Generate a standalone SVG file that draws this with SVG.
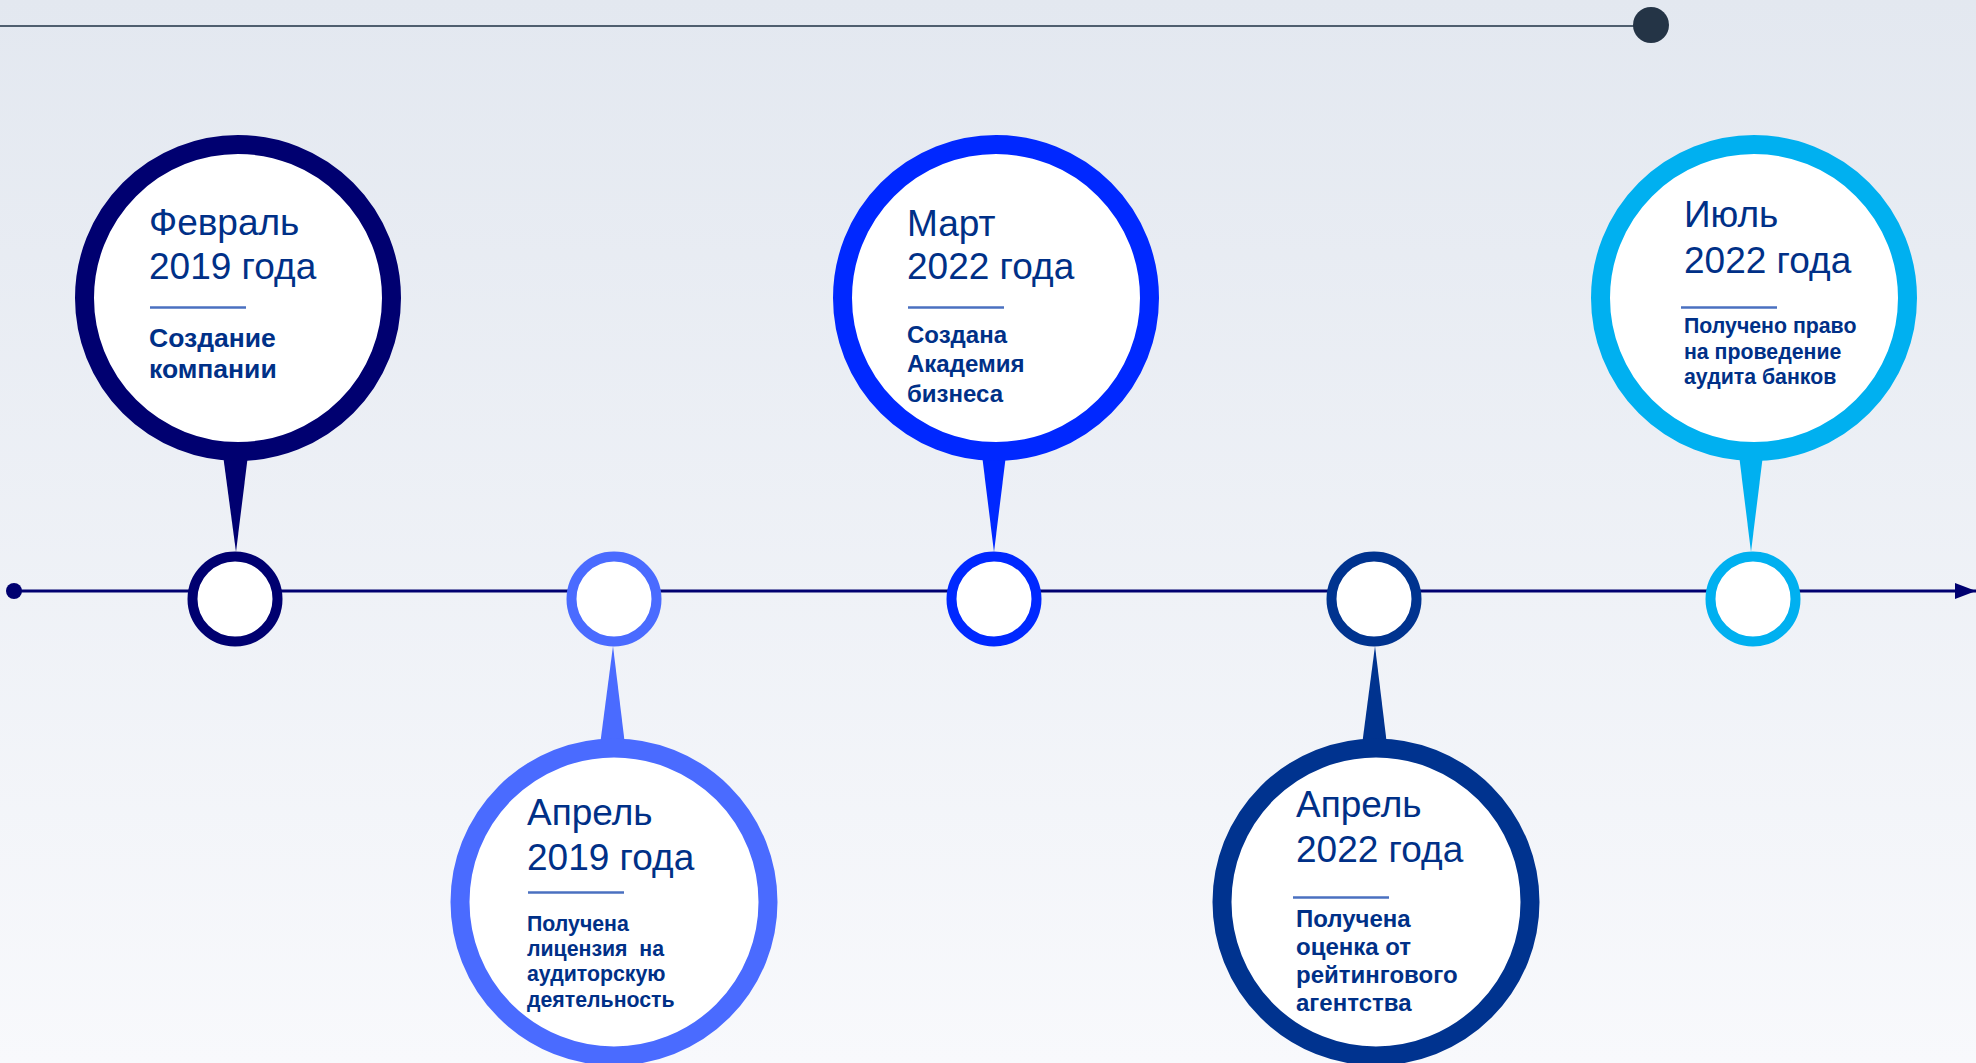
<svg xmlns="http://www.w3.org/2000/svg" width="1976" height="1063" viewBox="0 0 1976 1063">
<defs>
<linearGradient id="bg" x1="0" y1="0" x2="0" y2="1">
<stop offset="0" stop-color="#e3e8f0"/>
<stop offset="1" stop-color="#f8f9fc"/>
</linearGradient>
<marker id="arrow" viewBox="0 0 21 16" refX="21" refY="8" markerWidth="21" markerHeight="16" markerUnits="userSpaceOnUse" orient="auto">
<path d="M0,0 L21,8 L0,16 Z" fill="#000070"/>
</marker>
</defs>
<style>
.date{font-family:"Liberation Sans",Arial,sans-serif;font-size:37px;fill:#003087}
.body{font-family:"Liberation Sans",Arial,sans-serif;font-weight:bold;fill:#003087}
.div{stroke:#4a70c0;stroke-width:2.5}
.big{fill:#ffffff;stroke-width:19}
.small{fill:#ffffff;stroke-width:10}
</style>
<rect width="1976" height="1063" fill="url(#bg)"/>
<g id="header">
<line x1="0" y1="26" x2="1640" y2="26" stroke="#4f5f6f" stroke-width="2"/>
<circle cx="1651" cy="25" r="18" fill="#243446"/>
</g>
<g id="connectors">
<line x1="14" y1="591" x2="1976" y2="591" stroke="#000070" stroke-width="3" marker-end="url(#arrow)"/>
<circle cx="14" cy="591" r="8" fill="#000070"/>
<path d="M223,455 L248,455 L236,552 Z" fill="#000070"/>
<path d="M600,745 L625,745 L613,646 Z" fill="#4a6bff"/>
<path d="M982,455 L1006,455 L994,552 Z" fill="#0028ff"/>
<path d="M1362,745 L1387,745 L1375,646 Z" fill="#00338f"/>
<path d="M1739,455 L1763,455 L1751,552 Z" fill="#00b0f0"/>
</g>
<g id="marker1"><circle class="small" cx="235" cy="599" r="42.5" stroke="#000070"/></g>
<g id="marker2"><circle class="small" cx="614" cy="599" r="42.5" stroke="#4a6bff"/></g>
<g id="marker3"><circle class="small" cx="994" cy="599" r="42.5" stroke="#0028ff"/></g>
<g id="marker4"><circle class="small" cx="1374" cy="599" r="42.5" stroke="#00338f"/></g>
<g id="marker5"><circle class="small" cx="1753" cy="599" r="42.5" stroke="#00b0f0"/></g>
<g id="event1">
<circle class="big" cx="238" cy="298" r="153.5" stroke="#000070"/>
<text class="date" x="149" y="235">Февраль</text>
<text class="date" x="149" y="279">2019 года</text>
<line class="div" x1="150" y1="307.5" x2="246" y2="307.5"/>
<text class="body" font-size="26.5" x="149" y="347">Создание</text>
<text class="body" font-size="26.5" x="149" y="377.5">компании</text>
</g>
<g id="event2">
<circle class="big" cx="614" cy="902" r="154" stroke="#4a6bff" stroke-width="18"/>
<text class="date" x="527" y="825">Апрель</text>
<text class="date" x="527" y="870">2019 года</text>
<line class="div" x1="528" y1="892.5" x2="624" y2="892.5"/>
<text class="body" font-size="21.3" x="527" y="931">Получена</text>
<text class="body" font-size="21.3" x="527" y="956" xml:space="preserve">лицензия  на</text>
<text class="body" font-size="21.3" x="527" y="981">аудиторскую</text>
<text class="body" font-size="21.3" x="527" y="1006.5">деятельность</text>
</g>
<g id="event3">
<circle class="big" cx="996" cy="298" r="153.5" stroke="#0028ff"/>
<text class="date" x="907" y="236">Март</text>
<text class="date" x="907" y="279">2022 года</text>
<line class="div" x1="908" y1="307.5" x2="1004" y2="307.5"/>
<text class="body" font-size="24" x="907" y="343">Создана</text>
<text class="body" font-size="24" x="907" y="372">Академия</text>
<text class="body" font-size="24" x="907" y="402">бизнеса</text>
</g>
<g id="event4">
<circle class="big" cx="1376" cy="902" r="154" stroke="#00338f" stroke-width="18"/>
<text class="date" x="1296" y="817">Апрель</text>
<text class="date" x="1296" y="862">2022 года</text>
<line class="div" x1="1293" y1="897.5" x2="1389" y2="897.5"/>
<text class="body" font-size="24" x="1296" y="927">Получена</text>
<text class="body" font-size="24" x="1296" y="955">оценка от</text>
<text class="body" font-size="24" x="1296" y="983">рейтингового</text>
<text class="body" font-size="24" x="1296" y="1011">агентства</text>
</g>
<g id="event5">
<circle class="big" cx="1754" cy="298" r="153.5" stroke="#00b0f0"/>
<text class="date" x="1684" y="227">Июль</text>
<text class="date" x="1684" y="273">2022 года</text>
<line class="div" x1="1681" y1="307.5" x2="1777" y2="307.5"/>
<text class="body" font-size="21.3" x="1684" y="333">Получено право</text>
<text class="body" font-size="21.3" x="1684" y="359">на проведение</text>
<text class="body" font-size="21.3" x="1684" y="384">аудита банков</text>
</g>
</svg>
